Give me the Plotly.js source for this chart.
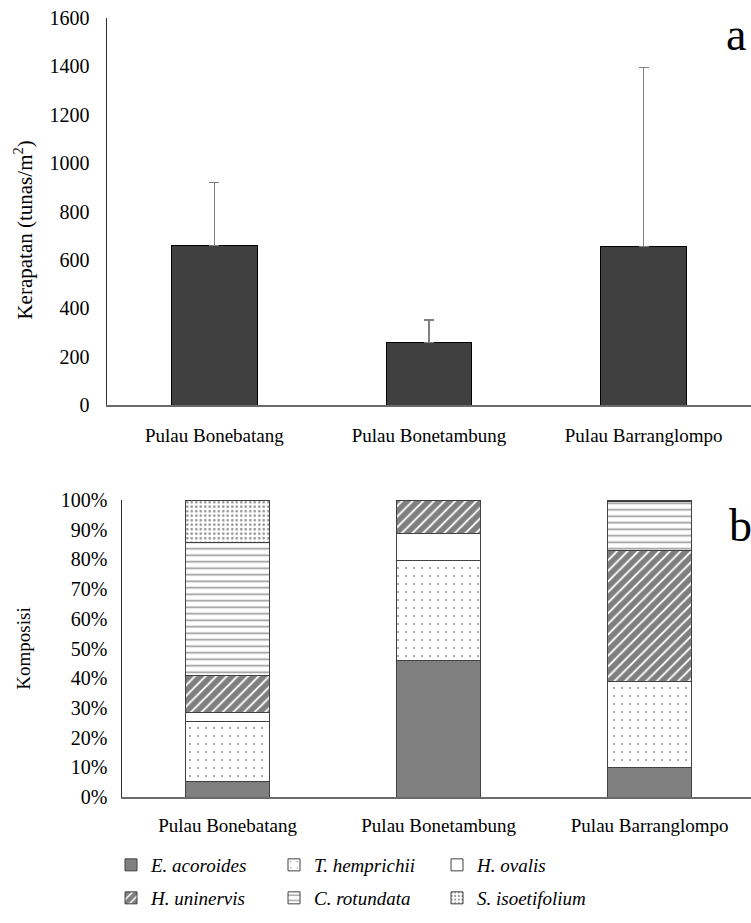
<!DOCTYPE html>
<html>
<head>
<meta charset="utf-8">
<script src="https://cdn.plot.ly/plotly-3.0.1.min.js"></script>
<style>html,body{margin:0;padding:0;background:#fff;}#chart{width:751px;height:923px;}</style>
</head>
<body>
<div id="chart"></div>
<script>
// ---- data ----
var sites = ["Pulau Bonebatang", "Pulau Bonetambung", "Pulau Barranglompo"];
var density = [660, 257, 654];
var densityErr = [261, 94, 741];

var species = ["E. acoroides", "T. hemprichii", "H. ovalis", "H. uninervis", "C. rotundata", "S. isoetifolium"];
var eAcoroides = [5.1, 46.0, 9.9];
var tHemprichii = [20.4, 33.7, 28.9];
var hOvalis = [3.1, 8.9, 0];
var hUninervis = [12.2, 11.4, 44.3];
var cRotundata = [44.9, 0, 16.4];
var sIsoetifolium = [14.3, 0, 0.5];

var yTicksA = [0, 200, 400, 600, 800, 1000, 1200, 1400, 1600];
var yTicksB = [0, 10, 20, 30, 40, 50, 60, 70, 80, 90, 100];
var yTickTextB = ["0%", "10%", "20%", "30%", "40%", "50%", "60%", "70%", "80%", "90%", "100%"];

// ---- styles ----
var serif = "'Liberation Serif', 'Times New Roman', serif";
var compSeries = [eAcoroides, tHemprichii, hOvalis, hUninervis, cRotundata, sIsoetifolium];
var patterns = [
  {shape: "", bgcolor: "#808080"},
  {shape: ".", fgcolor: "#000000", bgcolor: "#ffffff", size: 8, solidity: 0.04, fillmode: "overlay"},
  {shape: "", bgcolor: "#ffffff"},
  {shape: "/", fgcolor: "#000000", bgcolor: "#ffffff", size: 7.5, solidity: 0.75, fillmode: "overlay"},
  {shape: "-", fgcolor: "#333333", bgcolor: "#ffffff", size: 6.5, solidity: 0.25, fillmode: "overlay"},
  {shape: ".", fgcolor: "#202020", bgcolor: "#ffffff", size: 4.5, solidity: 0.25, fillmode: "overlay"}
];
var fills = ["#808080", "#ffffff", "#ffffff", "#ffffff", "#ffffff", "#ffffff"];
var legendOf = ["legend", "legend", "legend", "legend2", "legend2", "legend2"];

var traces = [];
traces.push({
  type: "bar", x: sites, y: density, xaxis: "x", yaxis: "y",
  marker: {color: "#404040", line: {color: "#000000", width: 1}},
  error_y: {type: "data", array: densityErr, symmetric: false, arrayminus: [0,0,0], color: "#808080", thickness: 1.3, width: 5},
  showlegend: false, hoverinfo: "skip"
});
for (var i = 0; i < species.length; i++) {
  traces.push({
    type: "bar", x: sites, y: compSeries[i], name: "<i>" + species[i] + "</i>", xaxis: "x2", yaxis: "y2",
    marker: {color: fills[i], line: {color: "#404040", width: 1}, pattern: patterns[i]},
    legend: legendOf[i], showlegend: true
  });
}

var H = 923, W = 751;
var legendBase = {
  orientation: "h", x: 111/W, xanchor: "left", yanchor: "top",
  font: {family: serif, size: 19, color: "#000"}, entrywidth: 118, entrywidthmode: "pixels",
  traceorder: "normal", itemwidth: 30, itemclick: false, bgcolor: "rgba(0,0,0,0)"
};
var legend1 = Object.assign({}, legendBase, {y: 1 - 846/H});
var legend2 = Object.assign({}, legendBase, {y: 1 - 879/H});

var layout = {
  width: W, height: H,
  margin: {l: 0, r: 0, t: 0, b: 0},
  paper_bgcolor: "#ffffff", plot_bgcolor: "#ffffff",
  font: {family: serif, color: "#000000", size: 18},
  barmode: "stack",
  bargap: 0.6,
  showlegend: true,
  xaxis: {
    domain: [107/W, 1], anchor: "y", type: "category", range: [-0.5, 2.5],
    showline: true, linecolor: "#6a6a6a", linewidth: 1.5, ticks: "", showgrid: false, zeroline: false,
    tickfont: {family: serif, size: 19}, ticklabelstandoff: 13
  },
  yaxis: {
    domain: [1 - 405/H, 1 - 18/H], anchor: "x", range: [0, 1600], tickvals: yTicksA,
    showline: true, linecolor: "#303030", linewidth: 1.5, ticks: "", showgrid: false, zeroline: false,
    tickfont: {family: serif, size: 20}, ticklabelstandoff: 12,
    title: {text: "Kerapatan (tunas/m<sup>2</sup>)&nbsp;&nbsp;&nbsp;&nbsp;&nbsp;&nbsp;&nbsp;", font: {family: serif, size: 21}, standoff: 11}
  },
  xaxis2: {
    domain: [122/W, 1], anchor: "y2", type: "category", range: [-0.5, 2.48],
    showline: true, linecolor: "#6a6a6a", linewidth: 1.5, ticks: "", showgrid: false, zeroline: false,
    tickfont: {family: serif, size: 19}, ticklabelstandoff: 11
  },
  yaxis2: {
    domain: [1 - 797/H, 1 - 500/H], anchor: "x2", range: [0, 100], tickvals: yTicksB, ticktext: yTickTextB,
    showline: true, linecolor: "#303030", linewidth: 1.5, ticks: "", showgrid: false, zeroline: false,
    tickfont: {family: serif, size: 20}, ticklabelstandoff: 9,
    title: {text: "Komposisi", font: {family: serif, size: 19}, standoff: 25}
  },
  legend: legend1,
  legend2: legend2,
  annotations: [
    {text: "a", xref: "paper", yref: "paper", x: 736/W, y: 1 - 34/H, xanchor: "center", yanchor: "middle", showarrow: false, font: {family: serif, size: 46}},
    {text: "b", xref: "paper", yref: "paper", x: 740/W, y: 1 - 525/H, xanchor: "center", yanchor: "middle", showarrow: false, font: {family: serif, size: 46}}
  ]
};

Plotly.newPlot("chart", traces, layout, {displayModeBar: false, staticPlot: true});
</script>
</body>
</html>
